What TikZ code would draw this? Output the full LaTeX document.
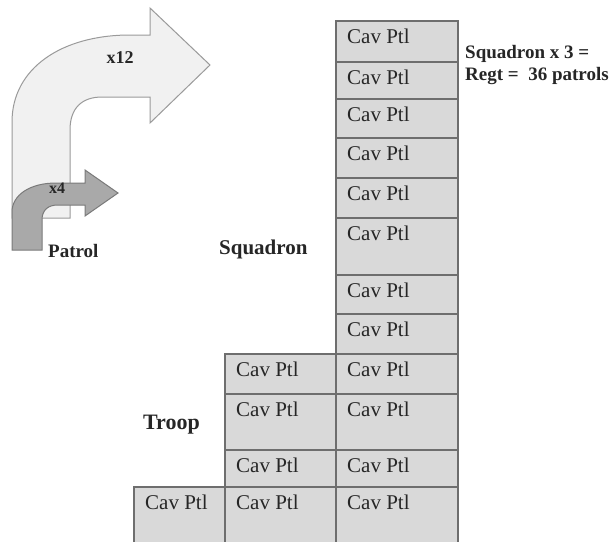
\documentclass[tikz,border=0pt]{standalone}
\usepackage{fontspec}
\setmainfont{Liberation Serif}
\definecolor{cellfill}{HTML}{D9D9D9}
\definecolor{celledge}{HTML}{6E6E6E}
\definecolor{bigfill}{HTML}{F1F1F1}
\definecolor{bigedge}{HTML}{9A9A9A}
\definecolor{smallfill}{HTML}{A9A9A9}
\definecolor{smalledge}{HTML}{7A7A7A}
\definecolor{labeltext}{HTML}{262626}
\tikzset{
  cellbox/.style={draw=celledge, fill=cellfill, line width=1.3pt, inner sep=0pt, outer sep=0pt},
  celltext/.style={text=labeltext, font=\fontsize{21}{24}\selectfont, inner sep=0pt},
  boldlabel/.style={text=labeltext, font=\fontsize{19}{22}\selectfont\bfseries, inner sep=0pt, anchor=base west},
  bigarrow/.style={draw=bigedge, fill=bigfill, line width=1pt, line join=miter},
  smallarrow/.style={draw=smalledge, fill=smallfill, line width=1pt, line join=miter},
}
\newcommand\cpcell[5]{%
  \node[cellbox, minimum width=#4pt, minimum height=#5pt, anchor=north west] (#1) at (#2,#3) {};
  \node[celltext, anchor=base west] (#1t) at ([shift={(11pt,-22pt)}]#1.north west) {Cav Ptl};}
\begin{document}
\begin{tikzpicture}[x=1pt, y=-1pt]
\useasboundingbox (0,0) rectangle (610,541);
\clip (0,0) rectangle (610,541);
\fill[white] (0,0) rectangle (610,541);
% big arrow x12
\path[bigarrow] (12,218) -- (12,122) .. controls (12,68) and (62,35) .. (130,35) -- (150,35) -- (150,8) -- (210,65) -- (150,123) -- (150,97) -- (102,97) .. controls (82,97) and (70,108) .. (70,130) -- (70,218) -- cycle;
\node[boldlabel, anchor=center, font=\fontsize{18}{20}\selectfont\bfseries] (x12) at (120,58) {x12};
% small arrow x4
\path[smallarrow] (12,250) -- (12,212) .. controls (12,195) and (30,183) .. (56,183) -- (85,183) -- (85,170) -- (118,193) -- (85,216) -- (85,205) -- (58,205) .. controls (48,205) and (42,210) .. (42,220) -- (42,250) -- cycle;
\node[boldlabel, anchor=center, font=\fontsize{16}{18}\selectfont\bfseries] (x4) at (57,188) {x4};
% right column
\cpcell{r1}{336}{21}{122}{41}
\cpcell{r2}{336}{62}{122}{37}
\cpcell{r3}{336}{99}{122}{39}
\cpcell{r4}{336}{138}{122}{40}
\cpcell{r5}{336}{178}{122}{40}
\cpcell{r6}{336}{218}{122}{57}
\cpcell{r7}{336}{275}{122}{39}
\cpcell{r8}{336}{314}{122}{40}
\cpcell{r9}{336}{354}{122}{40}
\cpcell{r10}{336}{394}{122}{56}
\cpcell{r11}{336}{450}{122}{37}
\cpcell{r12}{336}{487}{122}{62}
% middle column
\cpcell{m1}{225}{354}{111}{40}
\cpcell{m2}{225}{394}{111}{56}
\cpcell{m3}{225}{450}{111}{37}
\cpcell{m4}{225}{487}{111}{62}
% left column
\cpcell{l1}{134}{487}{91}{62}
% labels
\node[boldlabel] (patrol) at (48,257) {Patrol};
\node[boldlabel, font=\fontsize{21}{24}\selectfont\bfseries] (squadron) at (219,254) {Squadron};
\node[boldlabel, font=\fontsize{22}{24}\selectfont\bfseries] (troop) at (143,429) {Troop};
\node[boldlabel, font=\fontsize{19}{22}\selectfont\bfseries] (regt1) at (465,58) {Squadron x 3 =};
\node[boldlabel, font=\fontsize{19}{22}\selectfont\bfseries] (regt2) at (465,80) {Regt =\ \ 36 patrols};
\end{tikzpicture}
\end{document}
